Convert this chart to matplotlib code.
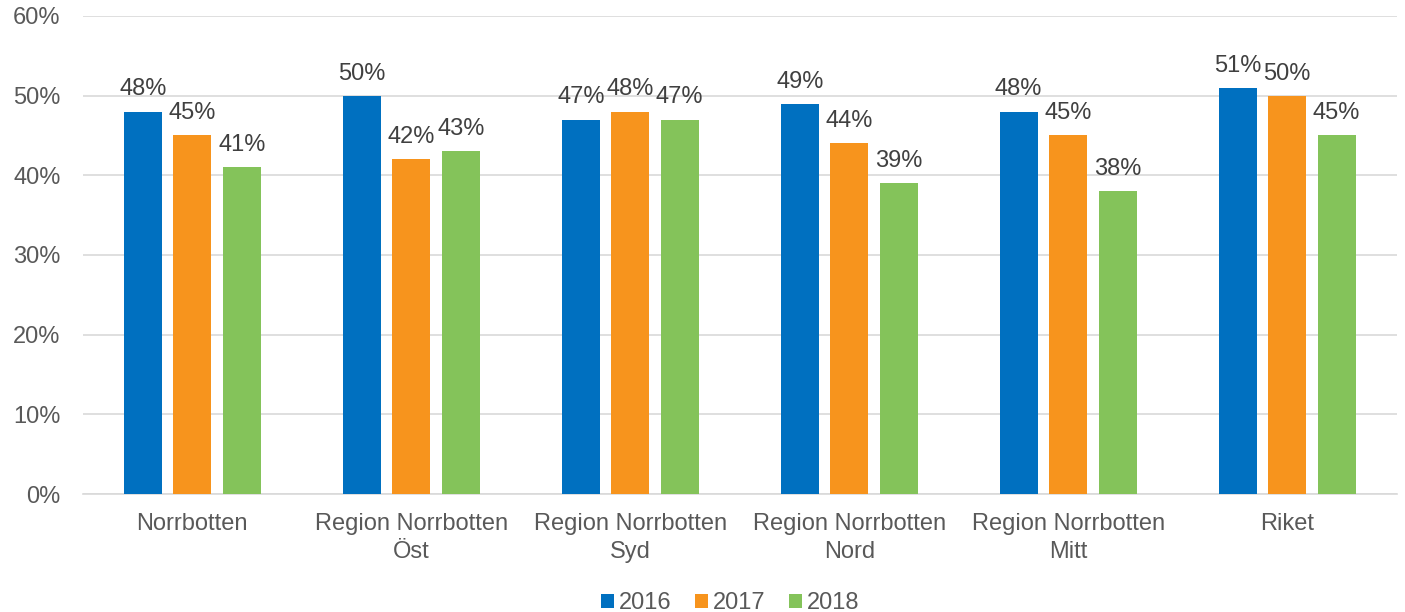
import numpy as np
import matplotlib.pyplot as plt

plt.rcParams['font.family'] = ['Liberation Sans', 'DejaVu Sans']

categories = ['Norrbotten', 'Region Norrbotten\nÖst', 'Region Norrbotten\nSyd',
              'Region Norrbotten\nNord', 'Region Norrbotten\nMitt', 'Riket']
years = ['2016', '2017', '2018']
v2016 = [48, 50, 47, 49, 48, 51]
v2017 = [45, 42, 48, 44, 45, 50]
v2018 = [41, 43, 47, 39, 38, 45]
colors = ['#0070C0', '#F7941D', '#84C35A']

fig = plt.figure(figsize=(14.05, 6.12), dpi=100)
ax = fig.add_axes([0.059, 0.1928, 0.935, 0.7811])

x = np.arange(len(categories))
w = 0.173
step = 0.226
for i, (vals, yr) in enumerate(zip([v2016, v2017, v2018], years)):
    pos = x + (i - 1) * step
    ax.bar(pos, vals, width=w, color=colors[i], label=yr, zorder=3)
    for p, v in zip(pos, vals):
        ax.annotate(f'{v}%', (p, v), xytext=(0, 8), textcoords='offset points',
                    ha='center', va='bottom', fontsize=17, color='#404040')

ax.set_xlim(-0.5, len(categories) - 0.5)
ax.set_ylim(0, 60)
ax.set_yticks(range(0, 61, 10))
ax.set_yticklabels([f'{t}%' for t in range(0, 61, 10)], fontsize=17, color='#595959')
ax.set_xticks(x)
ax.set_xticklabels(categories, fontsize=17, color='#595959', linespacing=1.3)
ax.tick_params(axis='both', length=0)
ax.tick_params(axis='y', pad=16)
ax.tick_params(axis='x', pad=14)
ax.grid(axis='y', color='#d9d9d9', linewidth=1.2, zorder=0)
for s in ['top', 'right', 'left']:
    ax.spines[s].set_visible(False)
ax.spines['bottom'].set_color('#d9d9d9')
ax.spines['bottom'].set_linewidth(1.2)

ax.legend(loc='center', bbox_to_anchor=(0.493, -0.228), ncol=3, frameon=False,
          fontsize=17, handlelength=0.55, handleheight=0.55, handletextpad=0.2,
          columnspacing=1.0, labelcolor='#595959')

fig.savefig('out.png', dpi=100)
